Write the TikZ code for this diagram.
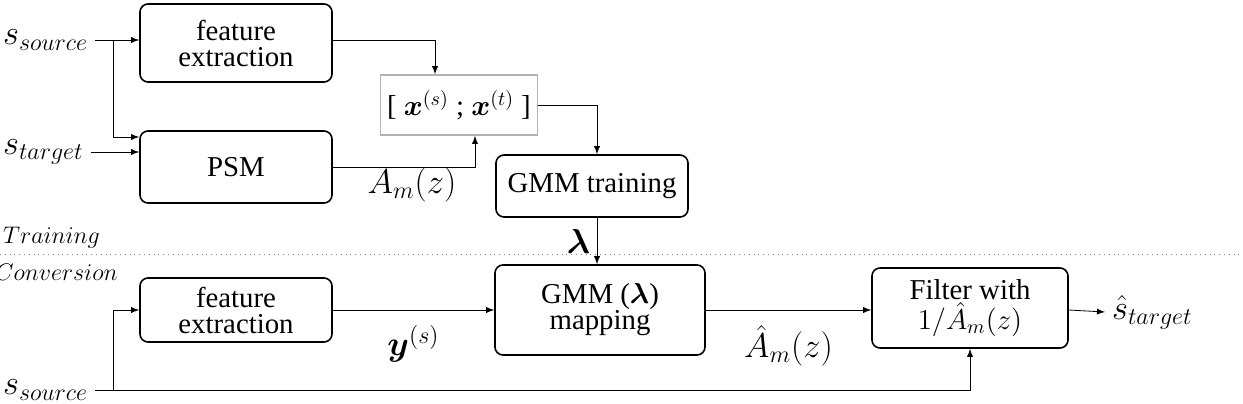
\documentclass[tikz,border=0pt]{standalone}
\usepackage{fontspec}
\usepackage{bm}
\setmainfont{Liberation Serif}
\usetikzlibrary{positioning}
\tikzset{
  block/.style = {draw, thick, rounded corners=4pt, minimum width=96pt, align=center, font=\Large, inner sep=2pt},
  conn/.style = {->, >=latex},
  lbl/.style = {font=\LARGE}
}
\begin{document}
\begin{tikzpicture}[x=0.5pt, y=-0.5pt]
  \useasboundingbox (0,0) rectangle (1243,403);
  % training part
  \node[block, minimum height=39pt] (fe1) at (236,43) {feature\\[-5pt]extraction};
  \node[block, minimum height=36pt] (psm) at (236,167) {PSM};
  \node[draw=gray!60, thick, minimum width=78pt, minimum height=30pt, font=\Large] (cat) at (459,105)
    {[ $\bm{x}^{(s)}$ ; $\bm{x}^{(t)}$ ]};
  \node[block, minimum height=31pt] (train) at (592,186) {GMM training};
  \node[lbl, anchor=west] (ssrc) at (-4,40) {$s_{source}$};
  \node[lbl, anchor=west] (stgt) at (-4,152) {$s_{target}$};
  \coordinate (br) at (113,40);
  \draw[conn] (ssrc.east) -- (fe1.west |- ssrc);
  \draw[conn] (br) |- (psm.west |- 0,137);
  \draw[conn] (stgt.east) -- (psm.west |- stgt);
  \draw[conn] (fe1.east |- 0,40) -| (cat.north -| 435,0);
  \draw[conn] (psm.east) -| (cat.south -| 475,0);
  \node[lbl] (am) at (412,185) {$A_m(z)$};
  \draw[conn] (cat.east) -| (train.north -| 597,0);
  % separator
  \draw[dotted, gray] (0,254) -- (1243,254);
  \node[lbl, font=\large, anchor=west] (ltrain) at (-4,238) {$Training$};
  \node[lbl, font=\large, anchor=west] (lconv) at (-12,272) {$Conversion$};
  % conversion part
  \node[block, minimum height=32pt] (fe2) at (236,310) {feature\\[-5pt]extraction};
  \node[block, minimum height=45pt, minimum width=105pt] (map) at (600,310) {GMM ($\bm{\lambda}$)\\[-5pt]mapping};
  \node[block, minimum height=40pt, minimum width=98pt] (filt) at (970,308) {Filter with\\[-3pt]$1/\hat{A}_m(z)$};
  \node[lbl, anchor=west] (ssrc2) at (-4,390) {$s_{source}$};
  \node[lbl, anchor=west] (shat) at (1105,312) {$\hat{s}_{target}$};
  \draw[conn] (train.south -| 597,0) -- node[left, font=\LARGE] {$\bm{\lambda}$} (map.north -| 597,0);
  \draw[conn] (fe2.east) -- node[below=4pt, font=\LARGE] {$\bm{y}^{(s)}$} (map.west |- fe2);
  \draw[conn] (map.east |- 0,310) -- node[below=4pt, font=\LARGE] {$\hat{A}_m(z)$} (filt.west |- 0,310);
  \draw[conn] (filt.east |- 0,310) -- (shat.west);
  \draw[conn] (ssrc2.east) -- (970,390) -- (filt.south -| 970,0);
  \draw[conn] (113,390) |- (fe2.west |- 0,310);
\end{tikzpicture}
\end{document}
